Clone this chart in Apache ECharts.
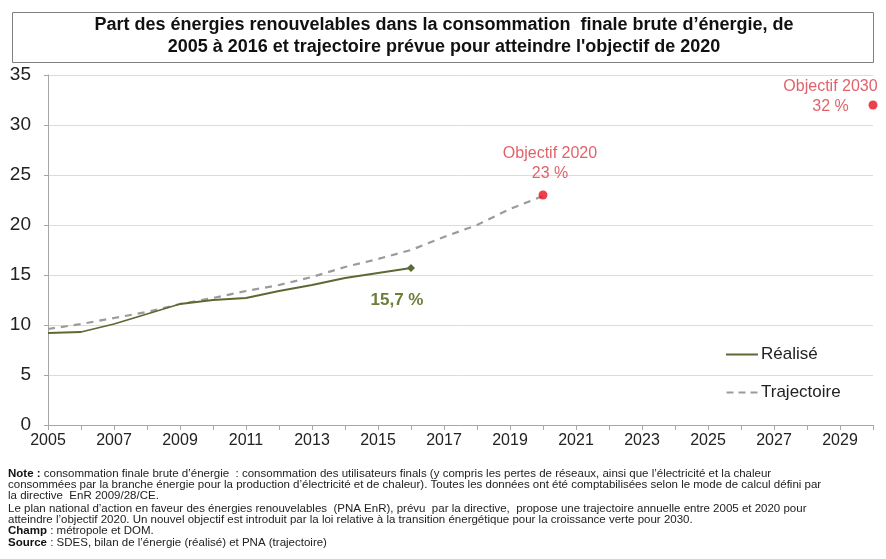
<!DOCTYPE html>
<html>
<head>
<meta charset="utf-8">
<script src="https://cdn.jsdelivr.net/npm/echarts@6/dist/echarts.min.js"></script>
<style>
html,body{margin:0;padding:0;background:#fff;}
#chart{width:886px;height:559px;}
</style>
</head>
<body>
<div id="chart"></div>
<script>
// ---- Data ----
const realiseYears = [2005,2006,2007,2008,2009,2010,2011,2012,2013,2014,2015,2016];
const realiseValues = [9.2,9.3,10.1,11.1,12.1,12.5,12.7,13.4,14.0,14.7,15.2,15.7];
const trajYears = [2005,2006,2007,2008,2009,2010,2011,2012,2013,2014,2015,2016,2017,2018,2019,2020];
const trajValues = [9.6,10.1,10.7,11.3,12.1,12.7,13.4,14.0,14.8,15.8,16.6,17.5,18.8,20.0,21.6,22.9];
const objectifYears = [2020,2030];
const objectifValues = [23,32];
const objectifLabels = ['Objectif 2020\n23 %','Objectif 2030\n32 %'];
const realiseLabel = '15,7 %';
const seriesNames = ['Réalisé','Trajectoire'];
const titleLines = ["Part des énergies renouvelables dans la consommation  finale brute d’énergie, de",
                    "2005 à 2016 et trajectoire prévue pour atteindre l'objectif de 2020"];
const noteLines = [
  [['b','Note :'],['n',' consommation finale brute d’énergie  : consommation des utilisateurs finals (y compris les pertes de réseaux, ainsi que l’électricité et la chaleur']],
  [['n','consommées par la branche énergie pour la production d’électricité et de chaleur). Toutes les données ont été comptabilisées selon le mode de calcul défini par']],
  [['n','la directive  EnR 2009/28/CE.']],
  [['n','Le plan national d’action en faveur des énergies renouvelables  (PNA EnR), prévu  par la directive,  propose une trajectoire annuelle entre 2005 et 2020 pour']],
  [['n','atteindre l’objectif 2020. Un nouvel objectif est introduit par la loi relative à la transition énergétique pour la croissance verte pour 2030.']],
  [['b','Champ'],['n',' : métropole et DOM.']],
  [['b','Source'],['n',' : SDES, bilan de l’énergie (réalisé) et PNA (trajectoire)']]
];

// ---- Build ----
const FONT = "'Liberation Sans', Arial, sans-serif";
const realiseData = realiseYears.map((y,i)=>{
  const item = {value:[y, realiseValues[i]], symbol:'none'};
  if (i === realiseYears.length-1) {
    item.symbol = 'diamond';
    item.symbolSize = 8;
    item.label = {show:true, formatter: realiseLabel, position:'bottom', distance:20, offset:[-14,0],
      color:'#6b7d3a', fontWeight:'bold', fontSize:17, fontFamily:FONT};
  }
  return item;
});
const trajData = trajYears.map((y,i)=>[y, trajValues[i]]);
const objData = objectifYears.map((y,i)=>{
  const item = {value:[y, objectifValues[i]], label:{show:true, formatter:objectifLabels[i]}};
  if (i === 0) { item.label.position='top'; item.label.distance=7; item.label.offset=[7,0]; }
  else { item.label.position='left'; item.label.align='center'; item.label.distance=38; item.label.offset=[0,-8]; }
  return item;
});

const graphics = [
  {type:'rect', shape:{x:12.5,y:12.5,width:861,height:50}, style:{fill:'none', stroke:'#808080', lineWidth:1}},
  {type:'text', x:444, y:25, style:{text:titleLines[0], font:"bold 18px "+FONT, fill:'#111', align:'center', verticalAlign:'middle'}},
  {type:'text', x:444, y:47, style:{text:titleLines[1], font:"bold 18px "+FONT, fill:'#111', align:'center', verticalAlign:'middle'}}
];
const noteY = [474,485,496,509,520,531,543];
noteLines.forEach((parts,i)=>{
  const text = parts.map(p => '{'+p[0]+'|'+p[1]+'}').join('');
  graphics.push({type:'text', x:8, y:noteY[i], style:{
    text:text, verticalAlign:'middle', align:'left',
    rich:{
      b:{fontFamily:FONT, fontSize:11.5, fontWeight:'bold', fill:'#111'},
      n:{fontFamily:FONT, fontSize:11.5, fill:'#222'}
    }
  }});
});

const chart = echarts.init(document.getElementById('chart'), null, {renderer:'canvas'});
chart.setOption({
  backgroundColor:'#fff',
  animation:false,
  textStyle:{fontFamily:FONT},
  grid:{left:48, right:13, top:75, bottom:134, containLabel:false},
  legend:{
    data:[
      {name:seriesNames[0], icon:'rect', itemStyle:{color:'#5b6a33'}},
      {name:seriesNames[1], icon:'path://M0,0h7v2h-7zM12,0h7v2h-7zM24,0h7v2h-7z', itemStyle:{color:'#9b9b9b'}}
    ],
    orient:'vertical', left:721, top:341, itemWidth:32, itemHeight:2, itemGap:21,
    textStyle:{fontSize:17, color:'#222', fontFamily:FONT, padding:[0,0,0,-2]}
  },
  xAxis:{
    type:'value', min:2005, max:2030, interval:1,
    axisLine:{lineStyle:{color:'#a6a6a6'}},
    axisTick:{show:true, length:5, lineStyle:{color:'#a6a6a6'}},
    splitLine:{show:false},
    axisLabel:{fontSize:16, color:'#222', margin:8, formatter:v => ((v-2005)%2===0 ? String(v) : '')}
  },
  yAxis:{
    type:'value', min:0, max:35, interval:5,
    axisLine:{show:true, lineStyle:{color:'#a6a6a6'}},
    axisTick:{show:true, length:4, lineStyle:{color:'#a6a6a6'}},
    splitLine:{lineStyle:{color:'#dcdcdc'}},
    axisLabel:{fontSize:19, color:'#222', margin:17}
  },
  series:[
    {name:seriesNames[0], type:'line', data:realiseData, symbol:'none', showSymbol:true,
     color:'#5b6a33', lineStyle:{color:'#5b6a33', width:1.8}, itemStyle:{color:'#5b6a33'}, z:3},
    {name:seriesNames[1], type:'line', data:trajData, symbol:'none',
     color:'#9b9b9b', lineStyle:{color:'#9b9b9b', width:2.2, type:[7,6]}, z:2},
    {name:'Objectifs', type:'scatter', data:objData, symbolSize:9,
     itemStyle:{color:'#e8101e'},
     label:{color:'#d93a44', fontSize:16, lineHeight:20, fontFamily:FONT}, z:4}
  ],
  graphic:graphics
});
</script>
</body>
</html>
